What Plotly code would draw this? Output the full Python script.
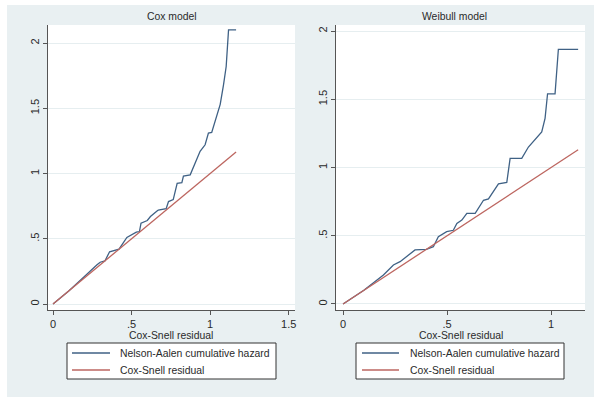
import plotly.graph_objects as go

W, H = 594, 400

# ---- data ----
cox_na_x = [0, 0.10, 0.20, 0.25, 0.28, 0.30, 0.33, 0.36, 0.40, 0.42, 0.47, 0.50, 0.53, 0.55,
            0.56, 0.60, 0.62, 0.66, 0.67, 0.72, 0.735, 0.765, 0.777, 0.79, 0.82, 0.83, 0.873,
            0.904, 0.936, 0.968, 0.989, 1.01, 1.04, 1.064, 1.085, 1.102, 1.117, 1.165]
cox_na_y = [0, 0.10, 0.21, 0.27, 0.30, 0.32, 0.33, 0.40, 0.41, 0.42, 0.51, 0.53, 0.55, 0.555,
            0.62, 0.64, 0.67, 0.71, 0.72, 0.73, 0.785, 0.80, 0.874, 0.925, 0.93, 0.98, 0.99,
            1.08, 1.17, 1.22, 1.31, 1.315, 1.44, 1.53, 1.68, 1.82, 2.10, 2.10]
cox_cs_x = [0, 1.165]
cox_cs_y = [0, 1.165]

wei_na_x = [0, 0.10, 0.194, 0.242, 0.274, 0.306, 0.346, 0.40, 0.434, 0.458, 0.498, 0.53, 0.547,
            0.571, 0.595, 0.635, 0.675, 0.699, 0.715, 0.747, 0.787, 0.803, 0.859, 0.891, 0.955,
            0.971, 0.983, 1.019, 1.035, 1.13]
wei_na_y = [0, 0.10, 0.212, 0.286, 0.31, 0.347, 0.396, 0.40, 0.42, 0.493, 0.53, 0.54, 0.59,
            0.615, 0.664, 0.664, 0.76, 0.77, 0.81, 0.88, 0.89, 1.067, 1.067, 1.15, 1.26,
            1.36, 1.54, 1.54, 1.866, 1.866]
wei_cs_x = [0, 1.13]
wei_cs_y = [0, 1.13]

y_tickvals = [0, 0.5, 1, 1.5, 2]
y_ticktext = ["0", ".5", "1", "1.5", "2"]
cox_x_tickvals = [0, 0.5, 1, 1.5]
cox_x_ticktext = ["0", ".5", "1", "1.5"]
wei_x_tickvals = [0, 0.5, 1]
wei_x_ticktext = ["0", ".5", "1"]

panel_titles = ["Cox model", "Weibull model"]
x_title = "Cox-Snell residual"
legend_labels = ["Nelson-Aalen cumulative hazard", "Cox-Snell residual"]

# ---- styling ----
BLUE = "#3f6185"
RED = "#bd6660"
BG = "#e9f0f2"
FONT = "Liberation Sans, Arial, sans-serif"
TXT = "#2a2a2a"
LEG_COLORS = [BLUE, RED]
TS = 10.4

def px(xp):
    return xp / W

def py(yp):
    return 1 - yp / H

fig = go.Figure()

fig.add_trace(go.Scatter(x=cox_na_x, y=cox_na_y, mode="lines", name=legend_labels[0],
                         line=dict(color=BLUE, width=1.3), xaxis="x", yaxis="y"))
fig.add_trace(go.Scatter(x=cox_cs_x, y=cox_cs_y, mode="lines", name=legend_labels[1],
                         line=dict(color=RED, width=1.3), xaxis="x", yaxis="y"))
fig.add_trace(go.Scatter(x=wei_na_x, y=wei_na_y, mode="lines", name=legend_labels[0],
                         line=dict(color=BLUE, width=1.3), xaxis="x2", yaxis="y2"))
fig.add_trace(go.Scatter(x=wei_cs_x, y=wei_cs_y, mode="lines", name=legend_labels[1],
                         line=dict(color=RED, width=1.3), xaxis="x2", yaxis="y2"))

axis_common = dict(showline=True, linecolor="#555555", linewidth=1, ticks="outside",
                   ticklen=4, tickcolor="#555555", tickfont=dict(size=11, color=TXT, family=FONT),
                   zeroline=False, fixedrange=True)

ydom = [py(310), py(25)]

fig.update_layout(
    width=W, height=H,
    margin=dict(l=0, r=0, t=0, b=0),
    paper_bgcolor=BG,
    plot_bgcolor="white",
    font=dict(family=FONT, size=11, color=TXT),
    showlegend=False,
    xaxis=dict(domain=[px(48), px(295)], range=[-0.032, 1.54], anchor="y",
               tickvals=cox_x_tickvals, ticktext=cox_x_ticktext, showgrid=False, **axis_common),
    yaxis=dict(domain=ydom, range=[-0.046, 2.138], anchor="x",
               tickvals=y_tickvals, ticktext=y_ticktext, tickangle=-90,
               showgrid=True, gridcolor="#e6eef0", gridwidth=1, **axis_common),
    xaxis2=dict(domain=[px(336), px(585)], range=[-0.034, 1.163], anchor="y2",
                tickvals=wei_x_tickvals, ticktext=wei_x_ticktext, showgrid=False, **axis_common),
    yaxis2=dict(domain=ydom, range=[-0.044, 2.044], anchor="x2",
                tickvals=y_tickvals, ticktext=y_ticktext, tickangle=-90,
                showgrid=True, gridcolor="#e6eef0", gridwidth=1, **axis_common),
)

# white strips outside the light background panel
for x0, y0, x1, y1 in [(0, 0, 7, H), (0, 0, W, 5), (0, 397, W, H)]:
    fig.add_shape(type="rect", xref="paper", yref="paper",
                  x0=px(x0), x1=px(x1), y0=py(y1), y1=py(y0),
                  fillcolor="white", line=dict(width=0), layer="below")

# panel titles and x-axis titles
for label, xc in zip(panel_titles, [172, 454]):
    fig.add_annotation(text=label, x=px(xc), y=py(17), xref="paper", yref="paper",
                       xanchor="center", yanchor="middle", showarrow=False,
                       font=dict(size=TS, color=TXT, family=FONT))
for xc in [171, 461]:
    fig.add_annotation(text=x_title, x=px(xc), y=py(335), xref="paper", yref="paper",
                       xanchor="center", yanchor="middle", showarrow=False,
                       font=dict(size=TS, color=TXT, family=FONT))

# Stata-style legend boxes (one per panel)
for bx0, bx1, sx0, sx1, tx in [(67, 276, 72, 110, 118), (356, 564, 362, 399, 408)]:
    fig.add_shape(type="rect", xref="paper", yref="paper",
                  x0=px(bx0), x1=px(bx1), y0=py(379), y1=py(343),
                  fillcolor="white", line=dict(color="#333333", width=1))
    for label, col, yc in zip(legend_labels, LEG_COLORS, [353, 370]):
        fig.add_shape(type="line", xref="paper", yref="paper",
                      x0=px(sx0), x1=px(sx1), y0=py(yc), y1=py(yc),
                      line=dict(color=col, width=1.3))
        fig.add_annotation(text=label, x=px(tx), y=py(yc), xref="paper", yref="paper",
                           xanchor="left", yanchor="middle", showarrow=False,
                           font=dict(size=TS, color=TXT, family=FONT))

fig.write_html("out.html")
